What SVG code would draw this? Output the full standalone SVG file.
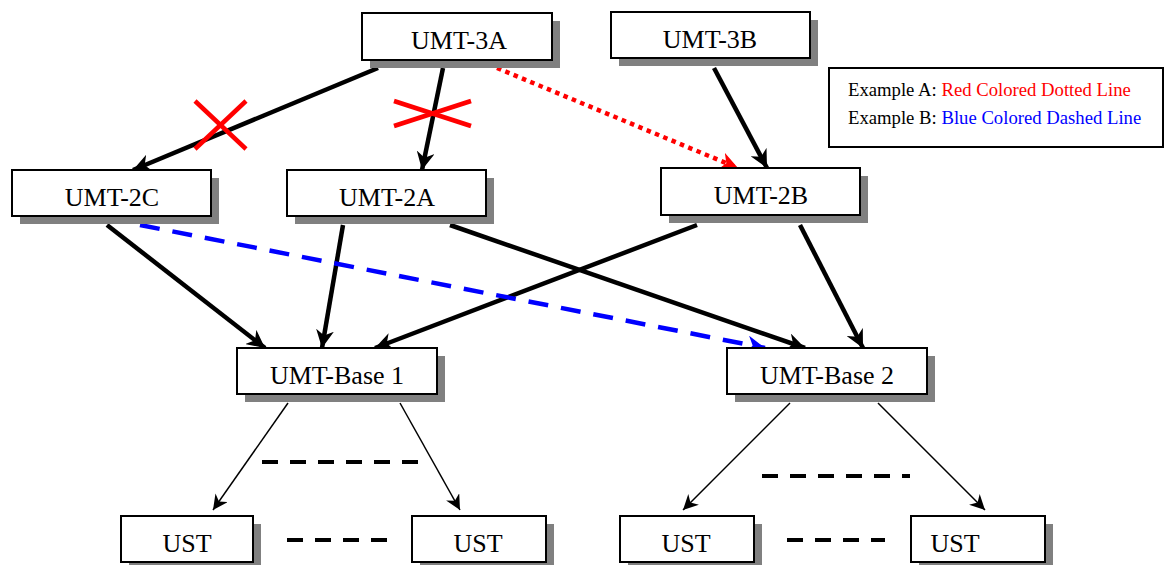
<svg xmlns="http://www.w3.org/2000/svg" width="1165" height="565" viewBox="0 0 1165 565">
<defs>
<style>
.box{fill:#fff;stroke:#000;stroke-width:2}
.sh{fill:#808080}
.lbl{font-family:'Liberation Serif','Times New Roman','DejaVu Serif',serif;font-size:26px;fill:#000;text-anchor:middle}
.thick{stroke:#000;stroke-width:4.5;fill:none}
.thin{stroke:#000;stroke-width:1.5;fill:none}
.leg{font-family:'Liberation Serif','Times New Roman','DejaVu Serif',serif;font-size:18.7px;fill:#000}
</style>
<marker id="ak" viewBox="0 0 10 10" refX="10" refY="5" markerWidth="4" markerHeight="4" orient="auto" markerUnits="strokeWidth"><path d="M0,0 L10,5 L0,10 L3,5 z" fill="#000"/></marker>
<marker id="akt" viewBox="0 0 10 10" refX="10" refY="5" markerWidth="10" markerHeight="10" orient="auto" markerUnits="strokeWidth"><path d="M0,0 L10,5 L0,10 L3,5 z" fill="#000"/></marker>
<marker id="ar" viewBox="0 0 10 10" refX="10" refY="5" markerWidth="4" markerHeight="4" orient="auto" markerUnits="strokeWidth"><path d="M0,0 L10,5 L0,10 L3,5 z" fill="#f00"/></marker>
<marker id="ab" viewBox="0 0 10 10" refX="10" refY="5" markerWidth="4" markerHeight="4" orient="auto" markerUnits="strokeWidth"><path d="M0,0 L10,5 L0,10 L3,5 z" fill="#00f"/></marker>
</defs>
<rect width="1165" height="565" fill="#fff"/>
<g id="connectors">
<line class="thick" x1="378" y1="68" x2="133" y2="170" marker-end="url(#ak)"/>
<line class="thick" x1="443" y1="68" x2="422" y2="170" marker-end="url(#ak)"/>
<line x1="497" y1="68" x2="738" y2="168" stroke="#f00" stroke-width="4.5" stroke-dasharray="4.5 4.5" marker-end="url(#ar)"/>
<line class="thick" x1="714" y1="68" x2="767" y2="168" marker-end="url(#ak)"/>
<line class="thick" x1="107" y1="225" x2="265" y2="348" marker-end="url(#ak)"/>
<line class="thick" x1="343" y1="225" x2="322" y2="348" marker-end="url(#ak)"/>
<line class="thick" x1="697" y1="225" x2="375" y2="348" marker-end="url(#ak)"/>
<line class="thick" x1="450" y1="225" x2="805" y2="348" marker-end="url(#ak)"/>
<line class="thick" x1="800" y1="225" x2="863" y2="348" marker-end="url(#ak)"/>
<line x1="140" y1="225" x2="765" y2="348" stroke="#00f" stroke-width="4.5" stroke-dasharray="20 13" marker-end="url(#ab)"/>
<line class="thin" x1="288" y1="403" x2="213" y2="510" marker-end="url(#akt)"/>
<line class="thin" x1="400" y1="403" x2="460" y2="510" marker-end="url(#akt)"/>
<line class="thin" x1="790" y1="403" x2="683" y2="510" marker-end="url(#akt)"/>
<line class="thin" x1="878" y1="403" x2="985" y2="510" marker-end="url(#akt)"/>
<g stroke="#000" stroke-width="4" stroke-dasharray="16 12">
<line x1="262" y1="462" x2="418" y2="462"/>
<line x1="287" y1="540" x2="387" y2="540"/>
<line x1="762" y1="476" x2="910" y2="476"/>
<line x1="787" y1="540" x2="885" y2="540"/>
</g>
<g stroke="#f00" stroke-width="4.5">
<line x1="195" y1="101" x2="246" y2="149"/>
<line x1="246" y1="101" x2="195" y2="149"/>
<line x1="394" y1="101" x2="471" y2="126"/>
<line x1="471" y1="101" x2="394" y2="126"/>
</g>
</g>
<g id="umt3a"><rect class="sh" x="370" y="21" width="190" height="47"/><rect class="box" x="362" y="13" width="190" height="47"/><text class="lbl" x="459" y="49">UMT-3A</text></g>
<g id="umt3b"><rect class="sh" x="619" y="20" width="199" height="46"/><rect class="box" x="611" y="12" width="199" height="46"/><text class="lbl" x="710" y="48">UMT-3B</text></g>
<g id="legend"><rect x="829" y="68" width="334" height="79" fill="#fff" stroke="#000" stroke-width="2"/>
<text class="leg" x="848" y="96">Example A: <tspan fill="#f00">Red Colored Dotted Line</tspan></text>
<text class="leg" x="848" y="124">Example B: <tspan fill="#00f">Blue Colored Dashed Line</tspan></text></g>
<g id="umt2c"><rect class="sh" x="20" y="178" width="199" height="46"/><rect class="box" x="12" y="170" width="199" height="46"/><text class="lbl" x="112" y="206">UMT-2C</text></g>
<g id="umt2a"><rect class="sh" x="295" y="178" width="199" height="46"/><rect class="box" x="287" y="170" width="199" height="46"/><text class="lbl" x="387" y="206">UMT-2A</text></g>
<g id="umt2b"><rect class="sh" x="669" y="176" width="199" height="47"/><rect class="box" x="661" y="168" width="199" height="47"/><text class="lbl" x="761" y="204">UMT-2B</text></g>
<g id="base1"><rect class="sh" x="245" y="356" width="200" height="46"/><rect class="box" x="237" y="348" width="200" height="46"/><text class="lbl" x="337" y="384">UMT-Base 1</text></g>
<g id="base2"><rect class="sh" x="735" y="356" width="200" height="46"/><rect class="box" x="727" y="348" width="200" height="46"/><text class="lbl" x="827" y="384">UMT-Base 2</text></g>
<g id="ust1"><rect class="sh" x="129" y="524" width="132" height="46"/><rect class="box" x="121" y="516" width="132" height="46"/><text class="lbl" x="187" y="552">UST</text></g>
<g id="ust2"><rect class="sh" x="420" y="524" width="134" height="46"/><rect class="box" x="412" y="516" width="134" height="46"/><text class="lbl" x="478" y="552">UST</text></g>
<g id="ust3"><rect class="sh" x="628" y="524" width="134" height="46"/><rect class="box" x="620" y="516" width="134" height="46"/><text class="lbl" x="686" y="552">UST</text></g>
<g id="ust4"><rect class="sh" x="919" y="524" width="134" height="46"/><rect class="box" x="911" y="516" width="134" height="46"/><text class="lbl" x="955" y="552">UST</text></g>
</svg>
